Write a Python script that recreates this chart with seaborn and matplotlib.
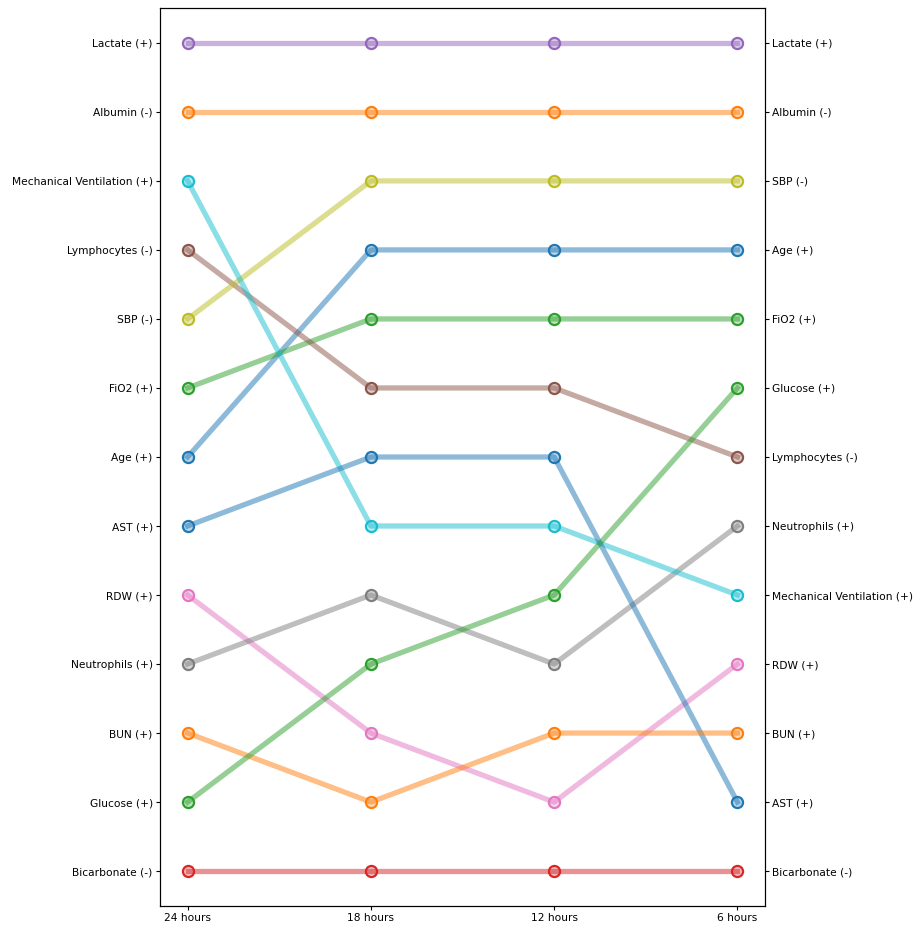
import pandas as pd
import seaborn as sns
import matplotlib.pyplot as plt
from matplotlib.colors import to_rgba

# time points, left to right
times = ["24 hours", "18 hours", "12 hours", "6 hours"]

# features in colour order (tab10 cycle)
features = ["Age (+)", "Albumin (-)", "FiO2 (+)", "Bicarbonate (-)", "Lactate (+)",
            "Lymphocytes (-)", "RDW (+)", "Neutrophils (+)", "SBP (-)",
            "Mechanical Ventilation (+)", "AST (+)", "BUN (+)", "Glucose (+)"]

# rank at each time point (1 = top)
rank_24h = [7, 2, 6, 13, 1, 4, 9, 10, 5, 3, 8, 11, 12]
rank_18h = [4, 2, 5, 13, 1, 6, 11, 9, 3, 8, 7, 12, 10]
rank_12h = [4, 2, 5, 13, 1, 6, 12, 10, 3, 8, 7, 11, 9]
rank_6h = [4, 2, 5, 13, 1, 7, 10, 8, 3, 9, 12, 11, 6]

palette = sns.color_palette("tab10", 10)
colors = [palette[i % 10] for i in range(len(features))]

rows = []
for f, r0, r1, r2, r3 in zip(features, rank_24h, rank_18h, rank_12h, rank_6h):
    for t, r in enumerate([r0, r1, r2, r3]):
        rows.append({"feature": f, "time": t, "rank": r})
df = pd.DataFrame(rows)

fs = 7.7
fig, ax = plt.subplots(figsize=(9.15, 9.26))
fig.subplots_adjust(left=0.175, right=0.836, top=0.991, bottom=0.022)

sns.lineplot(data=df, x="time", y="rank", hue="feature", hue_order=features,
             palette=colors, linewidth=3.8, alpha=0.5, legend=False, ax=ax,
             estimator=None, sort=False)
for f, c in zip(features, colors):
    sub = df[df["feature"] == f]
    ax.plot(sub["time"], sub["rank"], linestyle="none", marker="o", markersize=8,
            markerfacecolor=to_rgba(c, 0.3), markeredgecolor=c, markeredgewidth=1.6)

ax.set_xlim(-0.15, 3.15)
ax.set_ylim(13.5, 0.5)
ax.set_xticks(range(len(times)))
ax.set_xticklabels(times, fontsize=fs)
ax.set_xlabel("")
ax.set_ylabel("")

left = sorted(zip(rank_24h, features))
ax.set_yticks([r for r, _ in left])
ax.set_yticklabels([f for _, f in left], fontsize=fs)

ax2 = ax.twinx()
ax2.set_ylim(ax.get_ylim())
right = sorted(zip(rank_6h, features))
ax2.set_yticks([r for r, _ in right])
ax2.set_yticklabels([f for _, f in right], fontsize=fs)

for a in (ax, ax2):
    a.tick_params(length=2.7, pad=2.7)
    for s in a.spines.values():
        s.set_linewidth(0.8)

plt.savefig("out.png", dpi=100)
